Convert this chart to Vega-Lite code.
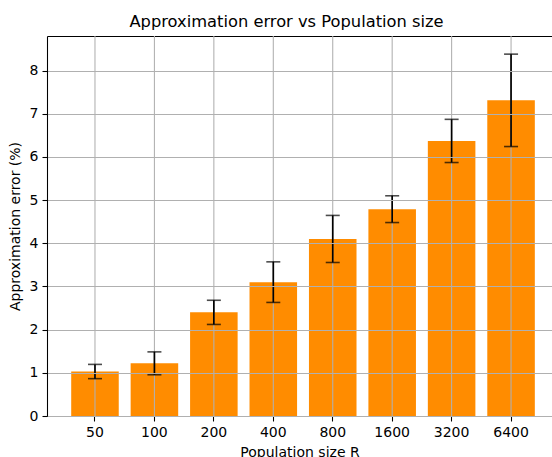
{
  "$schema": "https://vega.github.io/schema/vega-lite/v6.json",
  "width": 505,
  "height": 380,
  "autosize": {"type": "none"},
  "padding": {"left": 47, "top": 36, "right": 0, "bottom": 41},
  "background": "white",
  "title": {
    "text": "Approximation error vs Population size",
    "font": "DejaVu Sans",
    "fontSize": 16.3,
    "fontWeight": "normal",
    "color": "black",
    "anchor": "middle",
    "dx": -13,
    "offset": 5
  },
  "data": {
    "values": [
      {"R": "50", "value": 1.03, "err": 0.165},
      {"R": "100", "value": 1.22, "err": 0.265},
      {"R": "200", "value": 2.4, "err": 0.28},
      {"R": "400", "value": 3.1, "err": 0.47},
      {"R": "800", "value": 4.1, "err": 0.545},
      {"R": "1600", "value": 4.79, "err": 0.31},
      {"R": "3200", "value": 6.37, "err": 0.5},
      {"R": "6400", "value": 7.31, "err": 1.07}
    ]
  },
  "encoding": {
    "x": {
      "field": "R",
      "type": "ordinal",
      "sort": ["50", "100", "200", "400", "800", "1600", "3200", "6400"],
      "scale": {"paddingInner": 0.2, "paddingOuter": 0.348, "align": 0.585}
    },
    "y": {
      "field": "value",
      "type": "quantitative",
      "scale": {"domain": [0, 8.8], "nice": false, "zero": true},
      "axis": {
        "title": "Approximation error (%)",
        "values": [0, 1, 2, 3, 4, 5, 6, 7, 8],
        "grid": true,
        "zindex": 1,
        "titlePadding": 7
      }
    }
  },
  "layer": [
    {
      "mark": {"type": "bar", "color": "#ff8c00"},
      "encoding": {
        "x": {
          "field": "R",
          "type": "ordinal",
          "sort": ["50", "100", "200", "400", "800", "1600", "3200", "6400"],
          "axis": {
            "title": "Population size R",
            "orient": "bottom",
            "labelAngle": 0,
            "grid": false,
            "bandPosition": 0.5,
            "titlePadding": 6
          }
        }
      }
    },
    {
      "mark": {"type": "rule", "color": "#b0b0b0", "strokeWidth": 1.07},
      "encoding": {
        "x": {
          "field": "R",
          "type": "ordinal",
          "sort": ["50", "100", "200", "400", "800", "1600", "3200", "6400"],
          "axis": null
        },
        "y": null
      }
    },
    {
      "mark": {
        "type": "errorbar",
        "color": "black",
        "ticks": {"size": 14, "thickness": 1.6, "color": "black"},
        "rule": {"strokeWidth": 1.7, "color": "black"}
      },
      "encoding": {
        "x": {
          "field": "R",
          "type": "ordinal",
          "sort": ["50", "100", "200", "400", "800", "1600", "3200", "6400"],
          "axis": {
            "orient": "top",
            "labels": false,
            "ticks": false,
            "grid": false,
            "domain": true,
            "title": null
          }
        },
        "yError": {"field": "err"}
      }
    }
  ],
  "resolve": {"axis": {"x": "independent"}},
  "config": {
    "view": {"stroke": null},
    "axis": {
      "labelFont": "DejaVu Sans",
      "labelFontSize": 14,
      "labelColor": "black",
      "labelPadding": 4,
      "tickColor": "black",
      "tickSize": 5,
      "tickWidth": 1.07,
      "domainColor": "black",
      "domainWidth": 1.07,
      "gridColor": "#b0b0b0",
      "gridWidth": 1.07,
      "titleFont": "DejaVu Sans",
      "titleFontSize": 14,
      "titleFontWeight": "normal",
      "titleColor": "black"
    }
  }
}
